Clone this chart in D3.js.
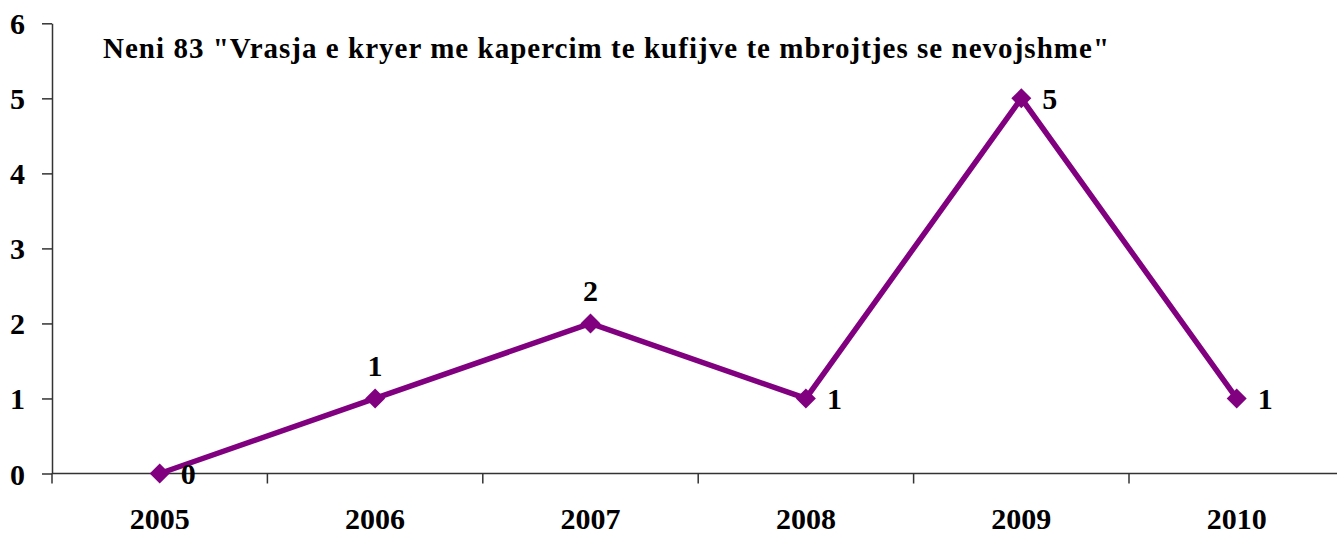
<!DOCTYPE html>
<html><head><meta charset="utf-8">
<script src="https://cdn.jsdelivr.net/npm/d3@7"></script>
<style>html,body{margin:0;padding:0;background:#fff;}svg{display:block;}</style>
</head><body>
<svg id="chart" width="1337" height="536"></svg>
<script>
const categories = ["2005","2006","2007","2008","2009","2010"];
const values = [0,1,2,1,5,1];
const yTicks = [0,1,2,3,4,5,6];
const labelPlacement = ["right","above","above","right","right","right"];
const title = 'Neni 83 "Vrasja e kryer me kapercim te kufijve te mbrojtjes se nevojshme"';

(function(){
const svg = d3.select("#chart");
const font = "Liberation Serif, Times New Roman, serif";
const mLeft = 52, mTop = 23.3, mBottom = 473.5, step = 215.4;
const fs = 30;
const x = d3.scaleBand().domain(categories).range([mLeft, mLeft + step*categories.length]).paddingInner(0).paddingOuter(0);
const y = d3.scaleLinear().domain([0,6]).range([mBottom, mTop]);
const color = "#800080";
const axisColor = "#333";

// y axis
const yAxis = svg.append("g").attr("transform", `translate(${mLeft},0)`)
  .call(d3.axisLeft(y).tickValues(yTicks).tickFormat(d3.format("d")).tickSize(10).tickSizeOuter(0).tickPadding(17));
yAxis.select(".domain").attr("stroke", axisColor).attr("stroke-width", 1.5);
yAxis.selectAll(".tick line").attr("stroke", axisColor).attr("stroke-width", 1.5);
yAxis.selectAll(".tick text").attr("font-family", font).attr("font-weight", "bold")
  .attr("font-size", fs).attr("fill", "#000").attr("dy", "0.35em");

// x axis
const xAxisG = svg.append("g").attr("transform", `translate(0,${mBottom})`);
xAxisG.append("line").attr("x1", mLeft).attr("x2", 1337).attr("y1", 0).attr("y2", 0)
  .attr("stroke", axisColor).attr("stroke-width", 1.5);
const bounds = categories.map(c => x(c)).concat([x(categories[categories.length-1]) + x.bandwidth()]);
xAxisG.selectAll("line.tk").data(bounds).join("line").attr("class","tk")
  .attr("x1", d => d).attr("x2", d => d).attr("y1", 0).attr("y2", 10)
  .attr("stroke", axisColor).attr("stroke-width", 1.5);
xAxisG.selectAll("text").data(categories).join("text")
  .attr("x", d => x(d) + x.bandwidth()/2).attr("y", 55.5)
  .attr("text-anchor", "middle").attr("font-family", font).attr("font-weight", "bold")
  .attr("font-size", fs).attr("fill", "#000").text(d => d);

// line
const cx = (d,i) => x(categories[i]) + x.bandwidth()/2;
const line = d3.line().x((d,i) => cx(d,i)).y(d => y(d));
svg.append("path").datum(values).attr("d", line).attr("fill","none")
  .attr("stroke", color).attr("stroke-width", 5.5).attr("stroke-linejoin","miter");

// markers
const diamond = d3.symbol().type(d3.symbolSquare).size(200);
svg.selectAll("path.mk").data(values).join("path").attr("class","mk")
  .attr("d", diamond)
  .attr("transform", (d,i) => `translate(${cx(d,i)},${y(d)}) rotate(45)`)
  .attr("fill", color);

// data labels
svg.selectAll("text.lbl").data(values).join("text").attr("class","lbl")
  .attr("x", (d,i) => labelPlacement[i] === "right" ? cx(d,i) + 21 : cx(d,i))
  .attr("y", (d,i) => labelPlacement[i] === "right" ? y(d) + 10.5 : y(d) - 22)
  .attr("text-anchor", (d,i) => labelPlacement[i] === "right" ? "start" : "middle")
  .attr("font-family", font).attr("font-weight","bold").attr("font-size", fs).attr("fill","#000")
  .text(d => d);

// title
svg.append("text").attr("x", 103).attr("y", 58).attr("font-family", font)
  .attr("font-weight","bold").attr("font-size", 29).attr("fill","#000")
  .attr("textLength", 1006).attr("lengthAdjust", "spacing").text(title);
})();
</script>
</body></html>
